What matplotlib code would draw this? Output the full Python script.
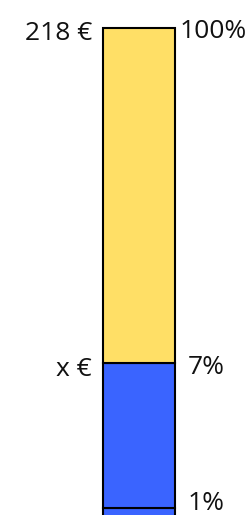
import matplotlib.pyplot as plt

# displayed segment heights, bottom to top
segments = [10, 145, 335]
colors = ['#3a64ff', '#3a64ff', '#ffdf66']
right_labels = ['1%', '7%', '100%']
left_labels = ['', 'x €', '218 €']

plt.rcParams['font.family'] = ['Open Sans', 'DejaVu Sans']

fig = plt.figure(figsize=(2.53, 5.15), dpi=100)
ax = fig.add_axes([0, 0, 1, 1])
ax.set_xlim(0, 253)
ax.set_ylim(3, 518)
ax.axis('off')

bottom = 0
tops = []
for h, c in zip(segments, colors):
    ax.bar(139, h, width=72, bottom=bottom, color=c, edgecolor='black', linewidth=1.5)
    bottom += h
    tops.append(bottom)

x_off = [49, 49, 41]
y_off = [5, -5, -3]
for top, lab, dx, dy in zip(tops, right_labels, x_off, y_off):
    ax.text(139 + dx, top + dy, lab, ha='left', va='center', fontsize=19, color='#111111')
for top, lab in zip(tops, left_labels):
    if lab:
        ax.text(92, top - 6, lab, ha='right', va='center', fontsize=19, color='#111111')

fig.savefig('out.png', dpi=100)
